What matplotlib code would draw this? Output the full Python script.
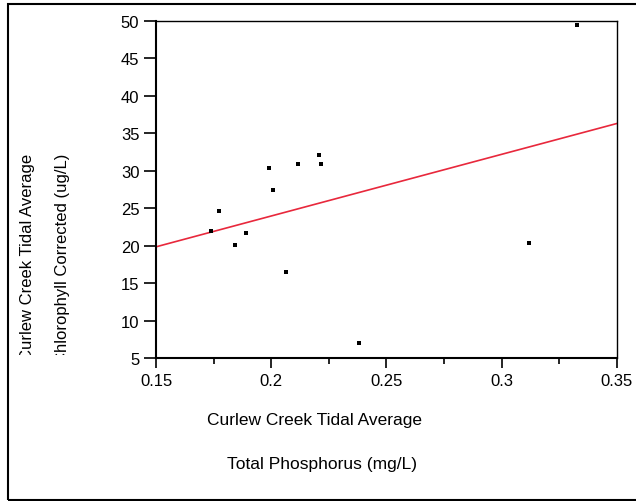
import numpy as np
import matplotlib.pyplot as plt
from matplotlib.patches import Rectangle
from matplotlib.transforms import Bbox

# total phosphorus (mg/L) and chlorophyll (ug/L)
tp = [0.174, 0.1773, 0.1843, 0.189, 0.199, 0.2008, 0.2064, 0.2116, 0.2207, 0.2216, 0.238, 0.3118, 0.3327]
chl = [22.0, 24.6, 20.1, 21.7, 30.4, 27.4, 16.5, 30.9, 32.1, 30.9, 7.0, 20.4, 49.5]

x_ticks = [0.15, 0.2, 0.25, 0.3, 0.35]
x_tick_labels = ['0.15', '0.2', '0.25', '0.3', '0.35']
y_ticks = [5, 10, 15, 20, 25, 30, 35, 40, 45, 50]

plt.rcParams['font.family'] = ['Liberation Sans', 'DejaVu Sans']
plt.rcParams['font.size'] = 12

fig = plt.figure(figsize=(6.36, 5.02), dpi=100)
ax = fig.add_axes([0.2453, 0.2849, 0.7248, 0.6713])

# least squares fit line
slope, icpt = np.polyfit(tp, chl, 1)
xf = np.array([0.15, 0.35])
ax.plot(xf, icpt + slope*xf, color='#e8283c', lw=1.2)
ax.plot(tp, chl, 's', color='black', ms=3, mew=0)

ax.set_xlim(0.15, 0.35)
ax.set_ylim(5, 50)
ax.set_xticks(x_ticks)
ax.set_xticklabels(x_tick_labels)
ax.set_xticks([0.175, 0.225, 0.275, 0.325], minor=True)
ax.set_yticks(y_ticks)
ax.tick_params(axis='x', which='major', length=7.5, width=1.2, pad=3)
ax.tick_params(axis='x', which='minor', length=4, width=1.2)
ax.tick_params(axis='y', length=9, width=1.2, pad=3)
for s in ['left', 'bottom']:
    ax.spines[s].set_linewidth(1.5)
for s in ['top', 'right']:
    ax.spines[s].set_linewidth(1.0)

# x labels, two lines
fig.text(207/636, 1 - 420/502, 'Curlew Creek Tidal Average', ha='left', va='center', fontsize=12.5)
fig.text(227/636, 1 - 465/502, 'Total Phosphorus (mg/L)', ha='left', va='center', fontsize=12.5)

# y labels, rotated and cut off at the bottom like the original
clip = Bbox([[0, 146], [636, 502]])
for xp, txt in [(27.5, 'Curlew Creek Tidal Average'), (63, 'Chlorophyll Corrected (ug/L)')]:
    t = fig.text(xp/636, 1 - 154/502, txt, rotation=90, ha='center', va='top', fontsize=12)
    t.set_clip_box(clip)
    t.set_clip_on(True)

# outer frame (right side runs off the image)
fig.patches.append(Rectangle((7.5/636, 0.002), 1.2, 0.988, transform=fig.transFigure,
                             fill=False, lw=1.5, ec='black', clip_on=False))

fig.savefig('out.png', dpi=100)
